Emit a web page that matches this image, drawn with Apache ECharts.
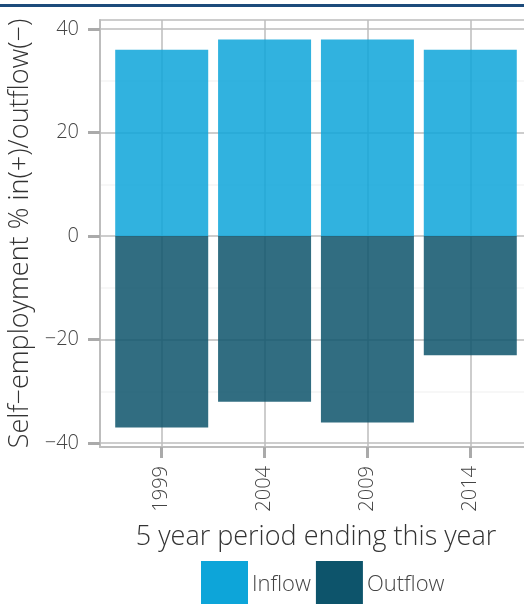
<!DOCTYPE html>
<html>
<head>
<meta charset="utf-8">
<script src="https://cdn.jsdelivr.net/npm/echarts@6/dist/echarts.min.js"></script>
<style>
html,body{margin:0;padding:0;background:#fff;}
#chart{width:524px;height:604px;}
</style>
</head>
<body>
<div id="chart"></div>
<script>
const categories = ['1999', '2004', '2009', '2014'];
const inflow = [36, 38, 38, 36];
const outflow = [-37, -32, -36, -23];
const yTicks = [-40, -20, 0, 20, 40];
const yMinorTicks = [-30, -10, 10, 30];

const positions = categories.map((c, i) => i + 1);
const FONT = '"Open Sans", "DejaVu Sans", sans-serif';
const TXT = '#444444';
const GRIDC = '#bdbdbd';

const chart = echarts.init(document.getElementById('chart'), null, {renderer: 'canvas'});
chart.setOption({
  animation: false,
  backgroundColor: '#ffffff',
  textStyle: {fontFamily: FONT},
  graphic: [{
    type: 'rect', left: 0, top: 4, shape: {width: 524, height: 3},
    style: {fill: '#1d4b7b'}, silent: true
  }],
  grid: {
    left: 100, top: 20, width: 432, bottom: 157,
    outerBoundsMode: 'none', containLabel: false,
    show: true, borderColor: GRIDC, borderWidth: 1.5, backgroundColor: 'transparent'
  },
  legend: {
    left: 201, top: 561, padding: 0,
    itemWidth: 47, itemHeight: 47, itemGap: 5,
    icon: 'rect',
    textStyle: {fontFamily: FONT, fontSize: 22, color: TXT, fontWeight: 300, padding: [0, 0, 4, -1]},
    data: [
      {name: 'Inflow', itemStyle: {color: '#0da5d9', opacity: 1}},
      {name: 'Outflow', itemStyle: {color: '#0d546b', opacity: 1}}
    ]
  },
  xAxis: {
    type: 'value', min: 0.4, max: 4.6,
    name: '5 year period ending this year',
    nameLocation: 'middle', nameGap: 77,
    nameTextStyle: {fontFamily: FONT, fontSize: 27, color: '#333', fontWeight: 300},
    axisLine: {show: true, onZero: false, lineStyle: {color: GRIDC, width: 2}},
    axisTick: {show: true, length: 11, customValues: positions, lineStyle: {color: '#aaaaaa', width: 3}},
    axisLabel: {
      customValues: positions, rotate: 90, margin: 19,
      fontFamily: FONT, fontSize: 20, color: TXT, fontWeight: 300,
      formatter: v => categories[Math.round(v) - 1] || ''
    },
    splitLine: {show: true, lineStyle: {color: GRIDC, width: 1.5}}
  },
  yAxis: [{
    type: 'value', min: -40.75, max: 41.75,
    name: 'Self\u2212employment % in(+)/outflow(\u2212)',
    nameLocation: 'middle', nameGap: 57,
    nameTextStyle: {fontFamily: FONT, fontSize: 27, color: '#333', fontWeight: 300},
    axisLine: {show: true, onZero: false, lineStyle: {color: GRIDC, width: 2}},
    axisTick: {show: true, length: 12, customValues: yTicks, lineStyle: {color: '#aaaaaa', width: 3}},
    axisLabel: {
      customValues: yTicks, margin: 21,
      fontFamily: FONT, fontSize: 20, color: TXT, fontWeight: 300,
      formatter: v => (v < 0 ? '\u2212' + Math.abs(v) : String(v))
    },
    splitLine: {show: true, lineStyle: {color: GRIDC, width: 1.5}}
  }, {
    type: 'value', min: -40.75, max: 41.75, position: 'left',
    axisLine: {show: false}, axisTick: {show: false, customValues: yMinorTicks},
    axisLabel: {show: false, customValues: yMinorTicks},
    splitLine: {show: true, lineStyle: {color: '#f4f4f4', width: 1.5}}
  }],
  series: [{
    name: 'Inflow', type: 'bar', stack: 'flow', barWidth: 93,
    itemStyle: {color: '#0da5d9', opacity: 0.85},
    data: positions.map((p, i) => [p, inflow[i]])
  }, {
    name: 'Outflow', type: 'bar', stack: 'flow', barWidth: 93,
    itemStyle: {color: '#0d546b', opacity: 0.85},
    data: positions.map((p, i) => [p, outflow[i]])
  }]
});
</script>
</body>
</html>
